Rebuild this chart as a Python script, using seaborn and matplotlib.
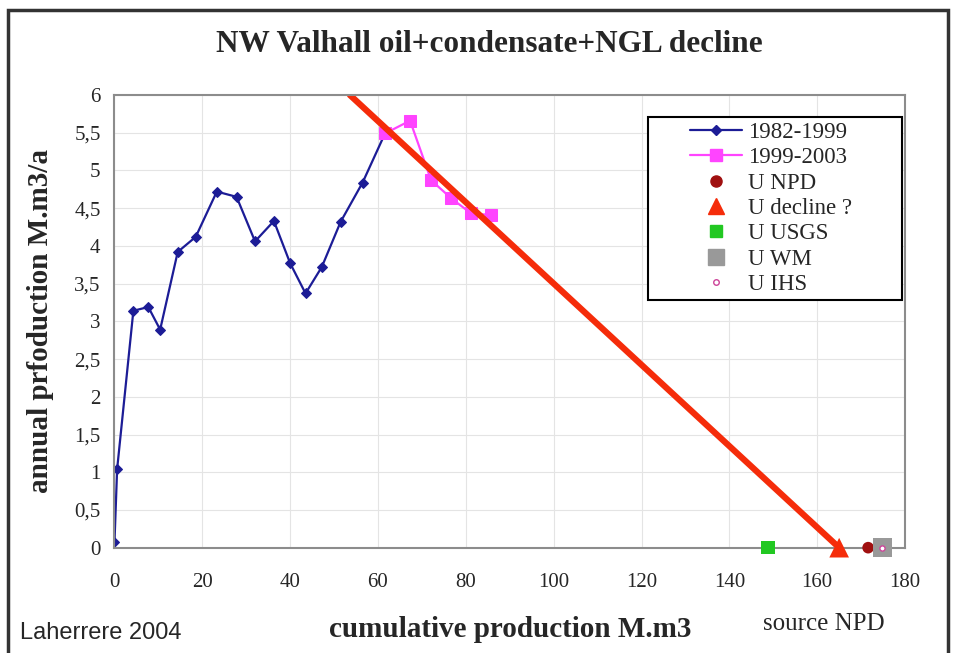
import matplotlib
matplotlib.use("Agg")
import matplotlib.pyplot as plt
import seaborn as sns
import numpy as np
from matplotlib.lines import Line2D
from matplotlib.patches import Rectangle
from matplotlib.ticker import FuncFormatter

# dados
cum_1982_1999 = [0.0, 0.6, 4.3, 7.7, 10.4, 14.4, 18.5, 23.3, 27.8, 32.0, 36.3, 40.0,
                 43.5, 47.2, 51.5, 56.5, 61.6]
prod_1982_1999 = [0.07, 1.04, 3.14, 3.19, 2.89, 3.92, 4.12, 4.72, 4.65, 4.06, 4.33, 3.77,
                  3.37, 3.72, 4.32, 4.84, 5.49]

cum_1999_2003 = [61.6, 67.3, 72.1, 76.7, 81.2, 85.8]
prod_1999_2003 = [5.49, 5.66, 4.87, 4.63, 4.43, 4.41]

decline_x = [53.6, 165.0]
decline_y = [6.0, 0.0]

u_npd = 171.6
u_decline = 165.0
u_usgs = 148.8
u_wm = 174.8
u_ihs = 174.8

sns.set_theme(style="whitegrid")
plt.rcParams['font.family'] = ['Liberation Serif', 'DejaVu Serif']

fig = plt.figure(figsize=(9.58, 6.53), dpi=100)
ax = fig.add_axes([0.1195, 0.1613, 0.8252, 0.6932])

# moldura externa
fig.patches.append(Rectangle((8 / 958, -0.05), 940 / 958, 1.05 - 10 / 653,
                             transform=fig.transFigure, fill=False,
                             edgecolor='#333333', linewidth=2.5))

sns.lineplot(x=cum_1982_1999, y=prod_1982_1999, sort=False, color='#1c1c96',
             marker='D', markersize=5, markeredgecolor='#1c1c96', linewidth=1.6, ax=ax)
sns.lineplot(x=cum_1999_2003, y=prod_1999_2003, sort=False, color='#ff44ff',
             marker='s', markersize=9, markeredgecolor='#ff44ff', linewidth=1.6, ax=ax)
sns.lineplot(x=decline_x, y=decline_y, sort=False, color='#f52c0a', linewidth=4.5, ax=ax)

pontos = [
    (u_usgs, 's', 90, '#22c822', 'none', 5),
    (u_decline, '^', 200, '#f52c0a', 'none', 5),
    (u_npd, 'o', 70, '#a01010', 'none', 5),
    (u_wm, 's', 190, '#999999', 'none', 5),
    (u_ihs, 'o', 14, 'white', '#cc4499', 6),
]
for xv, mk, sz, cor, borda, z in pontos:
    sns.scatterplot(x=[xv], y=[0], marker=mk, s=sz, color=cor, edgecolor=borda,
                    linewidth=1, ax=ax, zorder=z, clip_on=False)

ax.set_xlim(0, 180)
ax.set_ylim(0, 6)
ax.set_xticks(np.arange(0, 181, 20))
ax.set_yticks(np.arange(0, 6.01, 0.5))
ax.yaxis.set_major_formatter(FuncFormatter(lambda v, p: f"{v:g}".replace('.', ',')))
ax.tick_params(labelsize=15, length=0)
ax.tick_params(axis='x', pad=18)
ax.tick_params(axis='y', pad=10)
ax.grid(True, color='#e4e4e4', linewidth=0.8)
for s in ax.spines.values():
    s.set_color('#8c8c8c')
    s.set_linewidth(1.5)

ax.set_xlabel("cumulative production M.m3", fontsize=21, fontweight='bold', va='center')
ax.set_ylabel("annual prfoduction M.m3/a", fontsize=21, fontweight='bold', va='center')
ax.xaxis.set_label_coords(0.5, -0.18)
ax.yaxis.set_label_coords(-0.094, 0.5)

fig.text(489 / 958, 1 - 45 / 653, "NW Valhall oil+condensate+NGL decline",
         ha='center', va='center', fontsize=22.5, fontweight='bold')
fig.text(20 / 958, 1 - 633 / 653, "Laherrere 2004", ha='left', va='center',
         fontsize=17, family=['Liberation Sans', 'DejaVu Sans'])
fig.text(824 / 958, 1 - 624 / 653, "source NPD", ha='center', va='center', fontsize=18)

# caixa da legenda desenhada à parte (conteúdo centralizado como no original)
ax.add_patch(Rectangle((0.675, 0.547), 0.3212, 0.404, transform=ax.transAxes,
                       facecolor='white', edgecolor='black', linewidth=1.5, zorder=8))

handles = [
    Line2D([], [], color='#1c1c96', marker='D', markersize=5, linewidth=1.6),
    Line2D([], [], color='#ff44ff', marker='s', markersize=9, linewidth=1.6),
    Line2D([], [], color='#a01010', marker='o', markersize=8, linestyle='none'),
    Line2D([], [], color='#f52c0a', marker='^', markersize=12, linestyle='none'),
    Line2D([], [], color='#22c822', marker='s', markersize=8, linestyle='none'),
    Line2D([], [], color='#999999', marker='s', markersize=11, linestyle='none'),
    Line2D([], [], color='white', markeredgecolor='#cc4499', marker='o', markersize=4, linestyle='none'),
]
labels = ["1982-1999", "1999-2003", "U NPD", "U decline ?", "U USGS", "U WM", "U IHS"]
leg = ax.legend(handles, labels, loc='upper left', bbox_to_anchor=(0.713, 0.966),
                fontsize=16.5, frameon=False, handlelength=2.27, labelspacing=0.19,
                borderpad=0, handletextpad=0.3)
leg.set_zorder(9)

plt.savefig("out.png", dpi=100)
plt.close()
